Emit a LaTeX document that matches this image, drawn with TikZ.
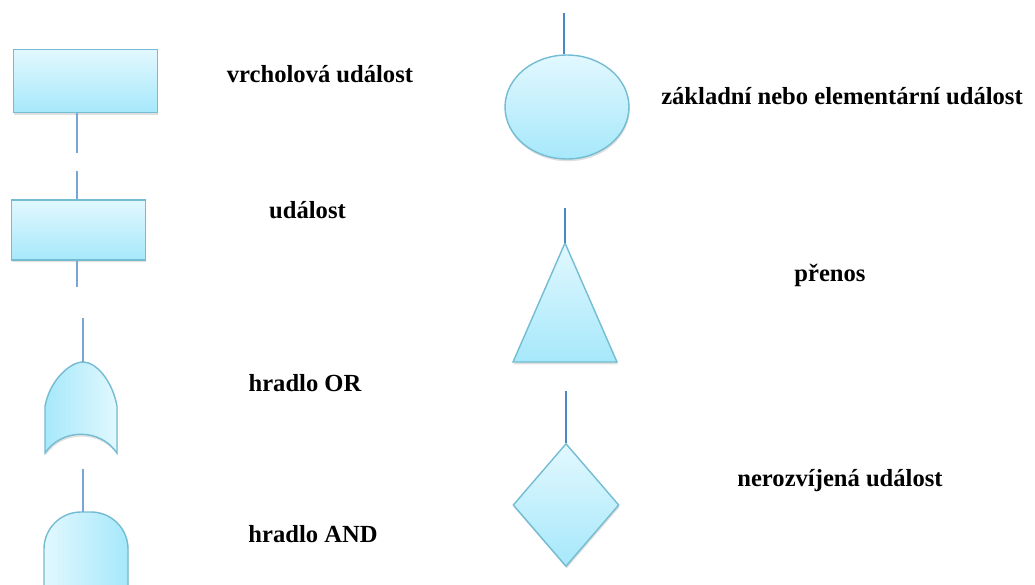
\documentclass[tikz,border=0pt]{standalone}
\usepackage{fontspec}
\setmainfont{Liberation Serif}
\usetikzlibrary{shapes.geometric,shadows}
\definecolor{evlight}{HTML}{E2F8FE}
\definecolor{evdark}{HTML}{A6E8FB}
\definecolor{evedge}{HTML}{74BCD2}
\definecolor{stubleft}{HTML}{7AA6D6}
\definecolor{stubright}{HTML}{4A86C8}

\begin{document}
\begin{tikzpicture}[
  x=0.02cm, y=-0.02cm,
  event/.style={
    draw=evedge,
    line width=0.8pt,
    top color=evlight,
    bottom color=evdark,
    inner sep=0pt,
    drop shadow={shadow xshift=0.4pt, shadow yshift=-1.3pt, opacity=0.25}
  },
  gate/.style={
    draw=evedge,
    line width=0.8pt,
    drop shadow={shadow xshift=0.4pt, shadow yshift=-1.3pt, opacity=0.25}
  },
  stub/.style={draw=stubleft, line width=0.7pt},
  rstub/.style={draw=stubright, line width=0.7pt},
  lbl/.style={font=\fontsize{14}{16}\selectfont\bfseries, anchor=base}
]
\clip (0,0) rectangle (1035,585);

% Left column: events
\node[event, rectangle, minimum width=2.89cm, minimum height=1.27cm] (topev) at (85.5,81) {};
\node[event, rectangle, minimum width=2.68cm, minimum height=1.2cm] (ev) at (78.3,230) {};
\coordinate (topend) at (77,153);
\coordinate (evin) at (77,171);
\coordinate (evout) at (77,287);
\draw[stub] (topev.south -| topend) -- (topend);
\draw[stub] (evin) -- (ev.north -| evin);
\draw[stub] (ev.south -| evout) -- (evout);

% OR gate
\coordinate (orin) at (83,318);
\coordinate (ortop) at (83,362);
\path[gate, left color=evdark, right color=evlight]
  (45,453) -- (45,406)
  .. controls (50,380) and (70,362) .. (ortop)
  .. controls (96,362) and (112,380) .. (117,406)
  -- (117,453)
  .. controls (100,428) and (62,428) .. (45,453) -- cycle;
\draw[stub] (orin) -- (ortop);

% AND gate
\coordinate (andin) at (83,469);
\coordinate (andtop) at (83,512);
\path[gate, left color=evlight, right color=evdark, rounded corners=0.74cm]
  (44,620) -- (44,512) -- (128,512) -- (128,620);
\draw[stub] (andin) -- (andtop);

% Right column: basic event, transfer, undeveloped event
\node[event, ellipse, minimum width=2.48cm, minimum height=2.08cm] (basic) at (567,107) {};
\coordinate (basicin) at (564,13);
\draw[rstub] (basicin) -- (basic.north -| basicin);

\coordinate (trin) at (565,208);
\coordinate (trtop) at (565,243);
\path[gate, top color=evlight, bottom color=evdark]
  (trtop) -- (617,362) -- (513,362) -- cycle;
\draw[rstub] (trin) -- (trtop);

\node[event, diamond, minimum width=2.12cm, minimum height=2.46cm] (undev) at (566,505) {};
\coordinate (undevin) at (566,391);
\draw[rstub] (undevin) -- (undev.north);

% Labels
\node[lbl] (ltop) at (320,82) {vrcholová událost};
\node[lbl] (lev) at (307.5,218) {událost};
\node[lbl] (lor) at (305,391) {hradlo OR};
\node[lbl] (land) at (313,542) {hradlo AND};
\node[lbl] (lbasic) at (842,104) {základní nebo elementární událost};
\node[lbl] (ltr) at (830,281) {přenos};
\node[lbl] (lundev) at (840,486) {nerozvíjená událost};
\end{tikzpicture}
\end{document}
